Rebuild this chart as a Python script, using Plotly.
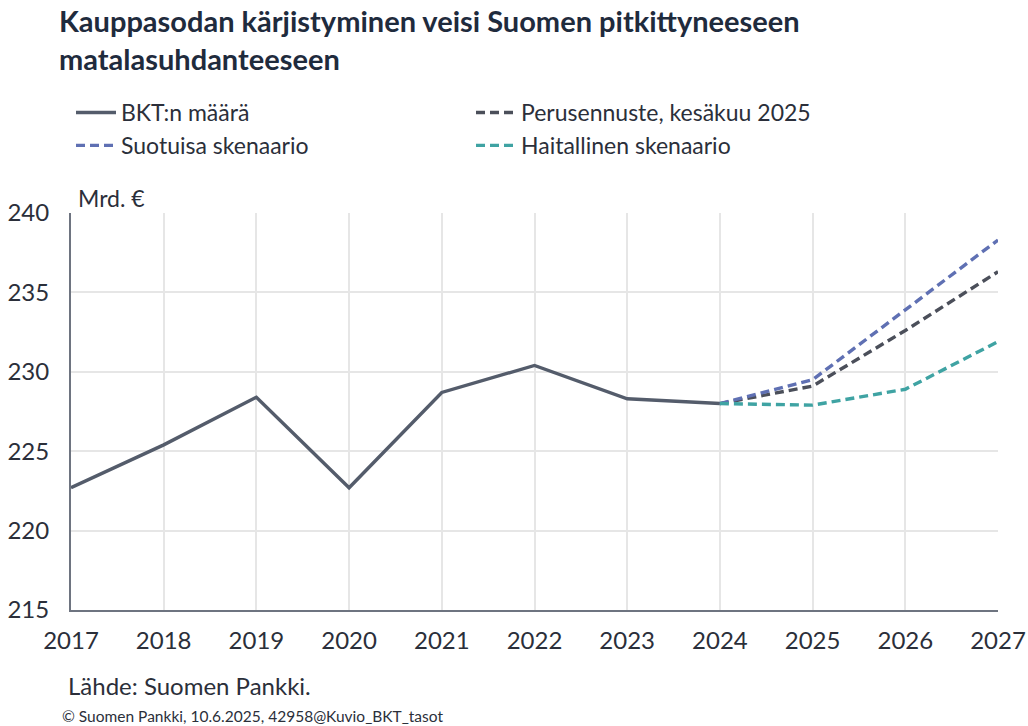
import plotly.graph_objects as go

years_hist = [2017, 2018, 2019, 2020, 2021, 2022, 2023, 2024]
bkt = [222.7, 225.4, 228.4, 222.7, 228.7, 230.4, 228.3, 228.0]

years_fc = [2024, 2025, 2026, 2027]
perus = [228.0, 229.1, 232.6, 236.3]
suotuisa = [228.0, 229.5, 233.9, 238.3]
haitallinen = [228.0, 227.9, 228.9, 231.9]

x_ticks = list(range(2017, 2028))
y_ticks = [215, 220, 225, 230, 235, 240]

FONT = "Lato"
TXT = "#2b2f3a"

W, H = 1028, 726
L, R, T, B = 71, 30, 213, 116
PW, PH = W - L - R, H - T - B


def px_x(px):
    return (px - L) / PW


def px_y(py):
    return (H - B - py) / PH


fig = go.Figure()
fig.add_trace(go.Scatter(x=years_hist, y=bkt, mode="lines", name="BKT:n määrä",
                         line=dict(color="#545c6b", width=3.4)))
fig.add_trace(go.Scatter(x=years_fc, y=perus, mode="lines", name="Perusennuste, kesäkuu 2025",
                         line=dict(color="#4b4f5a", width=3.4, dash="9px,5px")))
fig.add_trace(go.Scatter(x=years_fc, y=suotuisa, mode="lines", name="Suotuisa skenaario",
                         line=dict(color="#5f70b3", width=3.4, dash="9px,5px")))
fig.add_trace(go.Scatter(x=years_fc, y=haitallinen, mode="lines", name="Haitallinen skenaario",
                         line=dict(color="#3fa3a3", width=3.4, dash="9px,5px")))

fig.update_layout(
    width=W, height=H,
    paper_bgcolor="white", plot_bgcolor="white",
    margin=dict(l=L, r=R, t=T, b=B, autoexpand=False),
    font=dict(family=FONT, color=TXT, size=23),
    showlegend=True,
    legend=dict(
        orientation="h", x=0.0, xanchor="left", y=1 - 91 / H, yref="container",
        yanchor="top",
        entrywidth=345, entrywidthmode="pixels",
        font=dict(family=FONT, size=23, color=TXT),
        bgcolor="rgba(0,0,0,0)", traceorder="normal",
        itemwidth=40,
    ),
    xaxis=dict(
        range=[2017, 2027], tickvals=x_ticks, ticktext=[str(v) for v in x_ticks],
        showgrid=True, gridcolor="#e6e6e6", gridwidth=1.5,
        showline=True, linecolor="#6e7480", linewidth=2,
        ticks="", ticklabelstandoff=8, zeroline=False, automargin=False,
        tickfont=dict(family=FONT, size=24, color=TXT),
    ),
    yaxis=dict(
        range=[215, 240], tickvals=y_ticks,
        showgrid=True, gridcolor="#e6e6e6", gridwidth=1.5,
        showline=True, linecolor="#6e7480", linewidth=2,
        ticks="", ticklabelstandoff=15, zeroline=False, automargin=False,
        tickfont=dict(family=FONT, size=24, color=TXT),
    ),
)

fig.add_annotation(
    text="<b>Kauppasodan kärjistyminen veisi Suomen pitkittyneeseen<br>matalasuhdanteeseen</b>",
    x=px_x(57), xref="paper", xanchor="left", align="left",
    y=px_y(39), yref="paper", yanchor="middle", showarrow=False,
    font=dict(family=FONT, size=29, color="#1f2b3d"))
fig.add_annotation(text="Mrd. €", x=px_x(76), xref="paper", xanchor="left",
                   y=px_y(198), yref="paper", yanchor="middle", showarrow=False,
                   font=dict(family=FONT, size=23, color=TXT))
fig.add_annotation(text="Lähde: Suomen Pankki.", x=px_x(66), xref="paper", xanchor="left",
                   y=px_y(685), yref="paper", yanchor="middle", showarrow=False,
                   font=dict(family=FONT, size=24, color=TXT))
fig.add_annotation(text="© Suomen Pankki, 10.6.2025, 42958@Kuvio_BKT_tasot", x=px_x(60), xref="paper",
                   xanchor="left", y=px_y(716), yref="paper", yanchor="middle", showarrow=False,
                   font=dict(family=FONT, size=15.5, color=TXT))

fig.write_html("out.html", config={"displayModeBar": False},
               post_script="document.body.style.margin='0px';")
